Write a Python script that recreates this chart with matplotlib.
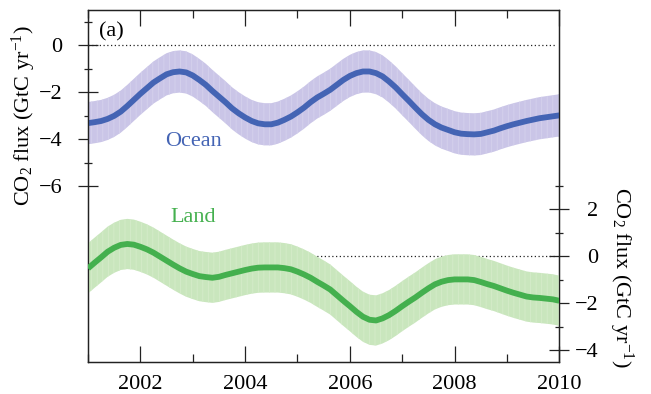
import matplotlib
matplotlib.use("Agg")
import matplotlib.pyplot as plt
from matplotlib.ticker import FixedLocator

plt.rcParams['font.family'] = 'Liberation Serif'
plt.rcParams['mathtext.fontset'] = 'custom'
plt.rcParams['mathtext.rm'] = 'Liberation Serif'
plt.rcParams['mathtext.it'] = 'Liberation Serif:italic'
plt.rcParams['hatch.linewidth'] = 0.6

# sampled every 1/8 year, 2001 - 2010
years = [2001 + 0.125 * i for i in range(73)]

ocean_flux = [-3.32, -3.28, -3.23, -3.14, -3.01, -2.83, -2.59, -2.33, -2.07,
              -1.83, -1.59, -1.41, -1.24, -1.15, -1.12, -1.16, -1.29, -1.48,
              -1.69, -1.95, -2.19, -2.43, -2.69, -2.90, -3.08, -3.23, -3.33,
              -3.37, -3.37, -3.30, -3.18, -3.04, -2.86, -2.66, -2.43, -2.23,
              -2.07, -1.90, -1.69, -1.48, -1.31, -1.19, -1.12, -1.12, -1.19,
              -1.33, -1.55, -1.80, -2.09, -2.37, -2.66, -2.94, -3.18, -3.37,
              -3.51, -3.61, -3.71, -3.77, -3.79, -3.80, -3.78, -3.71, -3.64,
              -3.54, -3.45, -3.37, -3.30, -3.23, -3.17, -3.11, -3.07, -3.03,
              -2.99]
ocean_err = 0.9

land_flux = [-0.51, -0.27, -0.04, 0.20, 0.37, 0.49, 0.53, 0.50, 0.41,
             0.30, 0.16, -0.01, -0.18, -0.35, -0.51, -0.65, -0.75, -0.84,
             -0.88, -0.91, -0.87, -0.79, -0.72, -0.65, -0.58, -0.52, -0.48,
             -0.47, -0.47, -0.47, -0.50, -0.55, -0.65, -0.77, -0.91, -1.08,
             -1.24, -1.41, -1.65, -1.89, -2.12, -2.36, -2.57, -2.70, -2.73,
             -2.64, -2.50, -2.32, -2.12, -1.93, -1.75, -1.55, -1.36, -1.19,
             -1.08, -1.01, -0.98, -0.98, -0.98, -1.01, -1.09, -1.18, -1.26,
             -1.36, -1.46, -1.55, -1.63, -1.71, -1.75, -1.77, -1.80, -1.83,
             -1.89]
land_err = 1.07

year_ticks = [2002, 2004, 2006, 2008, 2010]
year_minor = [2001, 2003, 2005, 2007, 2009]

OCEAN_LINE = '#4464b4'
OCEAN_BAND = '#cac5e7'
LAND_LINE = '#44b04e'
LAND_BAND = '#c9e6bd'

fig = plt.figure(figsize=(6.51, 3.94), dpi=100)
ax = fig.add_axes([0.1352, 0.0812, 0.7240, 0.8934])
ax2 = ax.twinx()

# ocean on the left axis
ax.axhline(0, xmax=0.991, color='#222222', lw=0.9, ls=(0, (1, 2)), zorder=1)
ax.fill_between(years, [v - ocean_err for v in ocean_flux],
                [v + ocean_err for v in ocean_flux],
                facecolor=OCEAN_BAND, edgecolor='#d5d2ed', hatch='|||',
                linewidth=0, zorder=2)
ax.plot(years, ocean_flux, color=OCEAN_LINE, lw=4.2, zorder=3,
        solid_capstyle='butt', solid_joinstyle='round')

# land on the right axis
ax2.axhline(0, xmax=0.991, color='#222222', lw=0.9, ls=(0, (1, 2)), zorder=1)
ax2.fill_between(years, [v - land_err for v in land_flux],
                 [v + land_err for v in land_flux],
                 facecolor=LAND_BAND, edgecolor='#d5ecca', hatch='|||',
                 linewidth=0, zorder=2)
ax2.plot(years, land_flux, color=LAND_LINE, lw=4.2, zorder=3,
         solid_capstyle='butt', solid_joinstyle='round')

ax.set_xlim(2001, 2010)
ax.set_ylim(-13.5, 1.5)
ax2.set_ylim(-4.5, 10.5)

ax.xaxis.set_major_locator(FixedLocator(year_ticks))
ax.xaxis.set_minor_locator(FixedLocator(year_minor))
ax.tick_params(axis='x', which='both', direction='in', top=True,
               labelsize=16, pad=9, width=0.9, color='#222222')
ax.tick_params(axis='x', which='major', length=11.5)
ax.tick_params(axis='x', which='minor', length=5.8)

ax.yaxis.set_major_locator(FixedLocator([0, -2, -4, -6]))
ax.yaxis.set_minor_locator(FixedLocator([1, -1, -3, -5]))
ax.tick_params(axis='y', which='both', direction='inout', labelsize=16,
               width=0.9, color='#222222')
ax.tick_params(axis='y', which='major', length=14.4, pad=11)
ax.tick_params(axis='y', which='minor', length=6)

ax2.yaxis.set_major_locator(FixedLocator([2, 0, -2, -4]))
ax2.yaxis.set_minor_locator(FixedLocator([3, 1, -1, -3]))
ax2.tick_params(axis='y', which='both', direction='inout', labelsize=16,
                width=0.9, color='#222222')
ax2.tick_params(axis='y', which='major', length=14.4, pad=21)
ax2.tick_params(axis='y', which='minor', length=6)
for lbl in ax2.get_yticklabels():
    lbl.set_horizontalalignment('right')

for a in (ax, ax2):
    for s in a.spines.values():
        s.set_linewidth(0.9)
        s.set_color('#222222')

ax.set_ylabel(r'CO$_2$ flux (GtC yr$^{-1}$)', fontsize=16)
ax.yaxis.set_label_coords(-0.107, 0.70)
ax2.set_ylabel(r'CO$_2$ flux (GtC yr$^{-1}$)', fontsize=16, rotation=270,
               va='center')
ax2.yaxis.set_label_coords(1.131, 0.24)

ax.text(0.023, 0.924, '(a)', transform=ax.transAxes, fontsize=16,
        va='baseline', ha='left')
ax.text(2003.02, -4.31, 'Ocean', color=OCEAN_LINE, fontsize=16,
        ha='center', va='baseline')
ax2.text(2003.0, 1.48, 'Land', color=LAND_LINE, fontsize=16,
         ha='center', va='baseline')

fig.savefig('out.png', dpi=100)
